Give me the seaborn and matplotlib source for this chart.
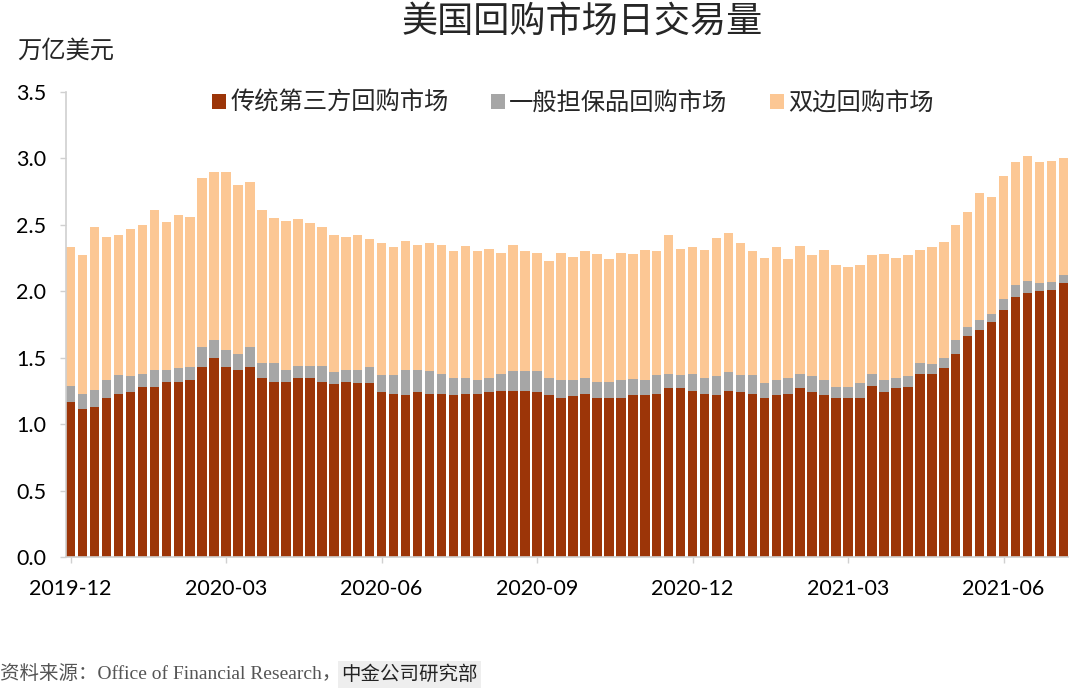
import numpy as np
import pandas as pd
import matplotlib
matplotlib.use("Agg")
import matplotlib.pyplot as plt
from matplotlib.patches import Patch
import seaborn as sns

# weekly values, trillion USD, week 0 = first week of 2019-12
tri_party = [1.17, 1.11, 1.13, 1.20, 1.23, 1.24, 1.28, 1.28, 1.32, 1.32, 1.33, 1.43,
             1.50, 1.43, 1.41, 1.43, 1.35, 1.32, 1.32, 1.35, 1.35, 1.32, 1.30, 1.32,
             1.31, 1.31, 1.24, 1.23, 1.22, 1.24, 1.23, 1.23, 1.22, 1.23, 1.23, 1.24,
             1.25, 1.25, 1.25, 1.24, 1.22, 1.20, 1.21, 1.23, 1.20, 1.20, 1.20, 1.22,
             1.22, 1.23, 1.27, 1.27, 1.25, 1.23, 1.22, 1.25, 1.24, 1.23, 1.20, 1.22,
             1.23, 1.27, 1.24, 1.22, 1.20, 1.20, 1.20, 1.29, 1.24, 1.27, 1.28, 1.38,
             1.38, 1.42, 1.53, 1.66, 1.71, 1.77, 1.86, 1.96, 1.99, 2.00, 2.01, 2.06]
gcf_repo = [0.12, 0.12, 0.13, 0.13, 0.14, 0.12, 0.10, 0.13, 0.09, 0.10, 0.10, 0.15,
            0.13, 0.13, 0.12, 0.15, 0.11, 0.14, 0.09, 0.09, 0.09, 0.12, 0.09, 0.09,
            0.10, 0.12, 0.13, 0.14, 0.19, 0.17, 0.17, 0.15, 0.13, 0.12, 0.10, 0.11,
            0.13, 0.15, 0.15, 0.16, 0.13, 0.13, 0.12, 0.12, 0.12, 0.12, 0.13, 0.12,
            0.11, 0.14, 0.11, 0.10, 0.13, 0.12, 0.14, 0.14, 0.13, 0.14, 0.11, 0.11,
            0.12, 0.11, 0.12, 0.11, 0.08, 0.08, 0.11, 0.09, 0.09, 0.08, 0.08, 0.08,
            0.07, 0.08, 0.10, 0.07, 0.07, 0.06, 0.08, 0.09, 0.09, 0.06, 0.06, 0.06]
bilateral = [1.04, 1.04, 1.22, 1.08, 1.05, 1.11, 1.12, 1.20, 1.11, 1.15, 1.13, 1.27,
             1.27, 1.34, 1.27, 1.24, 1.15, 1.09, 1.12, 1.10, 1.07, 1.04, 1.03, 1.00,
             1.01, 0.96, 0.99, 0.96, 0.97, 0.94, 0.96, 0.97, 0.95, 0.99, 0.97, 0.97,
             0.91, 0.95, 0.90, 0.89, 0.88, 0.96, 0.93, 0.95, 0.96, 0.92, 0.96, 0.94,
             0.98, 0.93, 1.04, 0.95, 0.95, 0.96, 1.04, 1.05, 0.99, 0.93, 0.94, 1.00,
             0.89, 0.96, 0.91, 0.98, 0.92, 0.90, 0.89, 0.89, 0.95, 0.90, 0.91, 0.85,
             0.88, 0.87, 0.87, 0.87, 0.96, 0.88, 0.93, 0.92, 0.94, 0.91, 0.91, 0.88]
tick_weeks = [0, 13, 26, 39, 52, 65, 78]
tick_labels = ["2019-12", "2020-03", "2020-06", "2020-09", "2020-12", "2021-03", "2021-06"]
names = ["传统第三方回购市场", "一般担保品回购市场", "双边回购市场"]
colors = ["#9C3508", "#A6A6A6", "#FCC794"]

df = pd.DataFrame({"week": np.arange(len(tri_party)),
                   "tri": tri_party, "gcf": gcf_repo, "bil": bilateral})
df["lvl1"] = df["tri"]
df["lvl2"] = df["tri"] + df["gcf"]
df["lvl3"] = df["lvl2"] + df["bil"]

sns.set_theme(style="white")
plt.rcParams["font.family"] = ["Lato", "Noto Sans CJK SC", "DejaVu Sans"]

fig = plt.figure(figsize=(10.8, 6.89), dpi=100)
ax = fig.add_axes([0.061, 0.1916, 0.928, 0.675])

# stacked look: draw cumulative totals from the top layer down
for col, c in zip(["lvl3", "lvl2", "lvl1"], colors[::-1]):
    sns.barplot(data=df, x="week", y=col, color=c, width=0.8, linewidth=0,
                errorbar=None, saturation=1, ax=ax)

ax.set_xlim(-0.4, 83.4)
ax.set_ylim(0, 3.5)
ax.set_yticks(np.arange(0, 3.51, 0.5))
ax.set_yticklabels([f"{v:.1f}" for v in np.arange(0, 3.51, 0.5)])
ax.set_xticks(tick_weeks)
ax.set_xticklabels(tick_labels)
ax.set_xlabel("")
ax.set_ylabel("")
ax.tick_params(axis="both", labelsize=15.5, colors="#D0D0D0", labelcolor="black",
               length=4, width=1)
ax.tick_params(axis="x", pad=12)
ax.tick_params(axis="y", pad=10)
ax.tick_params(bottom=True, left=True)
for s in ["top", "right"]:
    ax.spines[s].set_visible(False)
for s in ["left", "bottom"]:
    ax.spines[s].set_color("#D0D0D0")
    ax.spines[s].set_linewidth(1.2)

handles = [Patch(facecolor=c, edgecolor="none") for c in colors]
ax.legend(handles, names, loc="center", bbox_to_anchor=(0.506, 0.976), ncol=3,
          frameon=False, handlelength=0.55, handleheight=0.55,
          handletextpad=0.2, columnspacing=1.75,
          prop={"family": ["Noto Sans CJK SC"], "size": 17.5})

fig.text(0.539, 0.968, "美国回购市场日交易量", ha="center", va="center",
         fontsize=26, family=["Noto Sans CJK SC"])
fig.text(0.016, 0.926, "万亿美元", ha="left", va="center", fontsize=17.5,
         family=["Noto Sans CJK SC"])

src = fig.text(0.0, 0.021, "资料来源：Office of Financial Research，", ha="left", va="center",
               fontsize=14, color="#555555",
               family=["Liberation Serif", "Noto Sans CJK SC"])
plt.annotate("中金公司研究部", xy=(1, 0.5), xycoords=src, ha="left", va="center",
             fontsize=14, color="#222222", family=["Noto Sans CJK SC"],
             bbox=dict(boxstyle="square,pad=0.15", facecolor="#EEEEEE", edgecolor="none"))

fig.savefig("out.png", dpi=100)
